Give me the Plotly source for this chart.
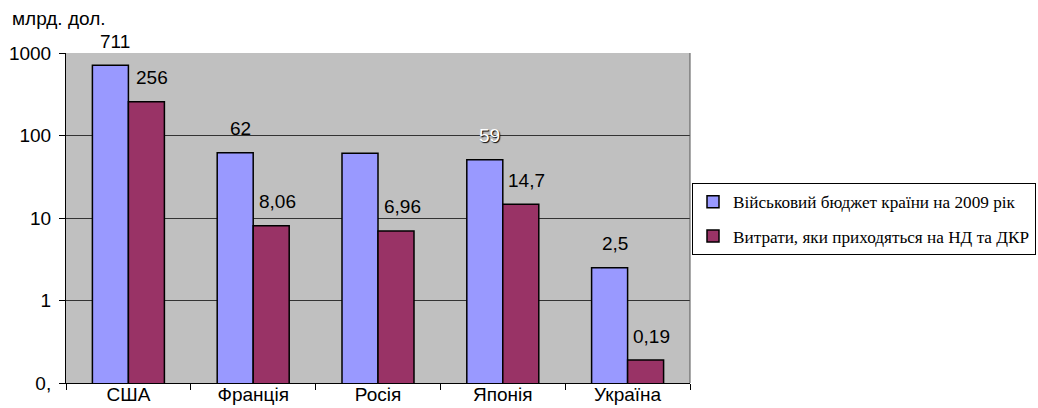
import numpy as np
import plotly.graph_objects as go

categories = ["США", "Франція", "Росія", "Японія", "Україна"]
budget = [711, 62, 61, 51, 2.5]
rnd = [256, 8.06, 6.96, 14.7, 0.19]
budget_labels = ["711", "62", "", "59", "2,5"]
rnd_labels = ["256", "8,06", "6,96", "14,7", "0,19"]
series_names = ["Військовий бюджет країни на 2009 рік",
                "Витрати, яки приходяться на НД та ДКР"]
ytick_vals = [0.1, 1, 10, 100, 1000]
ytick_text = ["0,", "1", "10", "100", "1000"]

BLUE = "#9999FF"
MAROON = "#993366"
SANS = "Liberation Sans, Arial, sans-serif"
SERIF = "Liberation Serif, Times New Roman, serif"

fig = go.Figure()
fig.add_trace(go.Bar(x=categories, y=budget, name=series_names[0],
                     marker=dict(color=BLUE, line=dict(color="black", width=1.5)),
                     legendgroup="a"))
fig.add_trace(go.Bar(x=categories, y=rnd, name=series_names[1],
                     marker=dict(color=MAROON, line=dict(color="black", width=1.5)),
                     legendgroup="b"))

annotations = []
for i, c in enumerate(categories):
    if budget_labels[i]:
        special = budget_labels[i] == "59"
        annotations.append(dict(
            x=c, y=np.log10(budget[i]), xref="x", yref="y",
            text=budget_labels[i], showarrow=False,
            xshift=-18 + 5, yshift=24, yanchor="middle", xanchor="center",
            font=dict(family=SANS, size=19,
                      color="white" if special else "black",
                      shadow="1px 1px 1px #000" if special else "none")))
    annotations.append(dict(
        x=c, y=np.log10(rnd[i]), xref="x", yref="y",
        text=rnd_labels[i], showarrow=False,
        xshift=18 + 6, yshift=24, yanchor="middle", xanchor="center",
        font=dict(family=SANS, size=19, color="black")))

annotations.append(dict(
    x=-56 / 624, y=(383 - 18) / 330, xref="paper", yref="paper",
    text="млрд. дол.", showarrow=False, xanchor="left", yanchor="middle",
    font=dict(family=SANS, size=19, color="black")))

fig.update_layout(
    width=1038, height=408, autosize=False,
    margin=dict(l=66, r=348, t=53, b=25, pad=0, autoexpand=False),
    paper_bgcolor="white", plot_bgcolor="#C0C0C0",
    barmode="group", bargap=0.423, bargroupgap=0,
    showlegend=True,
    legend=dict(x=(692 - 66) / 624, y=(383 - 183) / 330, xanchor="left", yanchor="top",
                bgcolor="white", bordercolor="black", borderwidth=1,
                font=dict(family=SERIF, size=17.2, color="black"),
                traceorder="grouped", tracegroupgap=9),
    annotations=annotations,
    font=dict(family=SANS, size=19, color="black"),
)
fig.update_xaxes(showline=True, linecolor="black", linewidth=1, automargin=False,
                 ticks="outside", tickson="boundaries", ticklen=6, tickcolor="black",
                 showgrid=False, mirror=False, ticklabelstandoff=-6,
                 tickfont=dict(family=SANS, size=19, color="black"))
fig.update_yaxes(type="log", range=[-1, 3], tickvals=ytick_vals, ticktext=ytick_text,
                 showline=True, linecolor="black", linewidth=1, automargin=False,
                 ticks="outside", ticklen=6, tickcolor="black",
                 showgrid=True, gridcolor="#333333", gridwidth=1,
                 ticklabelstandoff=4,
                 tickfont=dict(family=SANS, size=19, color="black"))
# right border of plot area
fig.add_shape(type="line", xref="paper", yref="paper", x0=1, x1=1, y0=0, y1=1,
              line=dict(color="#555555", width=1))

fig.write_html("out.html")
